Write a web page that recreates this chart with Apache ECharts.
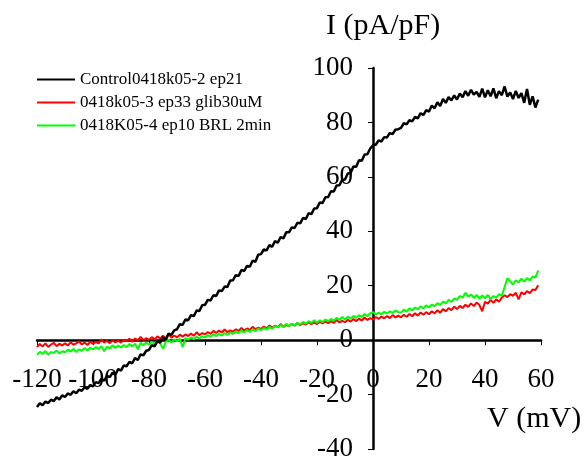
<!DOCTYPE html>
<html>
<head>
<meta charset="utf-8">
<script src="https://cdn.jsdelivr.net/npm/echarts@6/dist/echarts.min.js"></script>
<style>
  html, body { margin: 0; padding: 0; background: #fff; }
  #chart { width: 586px; height: 463px; }
</style>
</head>
<body>
<div id="chart"></div>
<script>
// membrane potential, mV (one sample per mV)
const voltage = [
  -120,-119,-118,-117,-116,-115,-114,-113,-112,-111,
  -110,-109,-108,-107,-106,-105,-104,-103,-102,-101,
  -100,-99,-98,-97,-96,-95,-94,-93,-92,-91,
  -90,-89,-88,-87,-86,-85,-84,-83,-82,-81,
  -80,-79,-78,-77,-76,-75,-74,-73,-72,-71,
  -70,-69,-68,-67,-66,-65,-64,-63,-62,-61,
  -60,-59,-58,-57,-56,-55,-54,-53,-52,-51,
  -50,-49,-48,-47,-46,-45,-44,-43,-42,-41,
  -40,-39,-38,-37,-36,-35,-34,-33,-32,-31,
  -30,-29,-28,-27,-26,-25,-24,-23,-22,-21,
  -20,-19,-18,-17,-16,-15,-14,-13,-12,-11,
  -10,-9,-8,-7,-6,-5,-4,-3,-2,-1,
  0,1,2,3,4,5,6,7,8,9,
  10,11,12,13,14,15,16,17,18,19,
  20,21,22,23,24,25,26,27,28,29,
  30,31,32,33,34,35,36,37,38,39,
  40,41,42,43,44,45,46,47,48,49,
  50,51,52,53,54,55,56,57,58,59
];

// current density, pA/pF
const control = [
  -24.6,-23.2,-23.9,-22.6,-23.1,-21.9,-22.4,-21.0,-21.8,-20.3,
  -20.9,-19.6,-20.1,-18.8,-19.5,-18.2,-18.6,-17.3,-17.9,-16.5,
  -17.0,-15.4,-15.8,-14.2,-14.9,-13.1,-13.6,-12.0,-12.7,-10.6,
  -11.2,-9.3,-9.6,-8.0,-8.5,-6.6,-7.3,-5.2,-5.6,-3.9,
  -3.6,-1.8,-2.3,-0.4,-0.9,1.1,0.2,2.4,1.9,3.6,
  4.0,5.9,5.6,7.6,7.3,9.2,8.8,10.9,10.7,12.8,
  13.0,14.8,14.6,16.5,16.2,18.3,18.0,19.7,19.5,21.9,
  22.0,23.9,23.6,25.8,25.4,27.3,27.0,29.2,28.8,31.4,
  31.6,33.3,33.0,34.9,34.3,36.4,35.8,37.9,37.4,39.6,
  39.6,41.4,41.2,43.1,42.9,44.9,44.5,46.6,46.3,48.4,
  48.5,50.6,50.4,52.5,52.6,54.7,54.6,56.8,56.9,58.9,
  59.0,61.2,61.4,63.8,63.7,66.1,65.9,68.2,68.3,70.4,
  71.6,71.8,73.4,73.0,74.6,74.5,76.1,75.7,77.3,77.5,
  78.0,79.7,79.3,80.8,80.4,82.0,81.5,83.4,82.7,84.5,
  84.0,86.2,85.2,87.4,86.0,88.6,87.2,89.3,88.1,89.9,
  88.4,90.6,89.3,91.5,89.8,92.0,90.2,91.2,89.4,92.4,
  89.2,91.8,89.6,92.5,88.9,91.5,90.0,93.2,89.5,91.0,
  88.6,91.6,89.0,90.8,87.2,92.3,86.5,89.6,85.5,88.4
];

const glib = [
  -2.6,-1.4,-2.3,-1.2,-2.5,-1.6,-1.0,-2.2,-1.3,-2.0,
  -1.1,-2.0,-0.8,-1.7,-1.2,-0.4,-1.6,-0.9,-1.8,-0.5,
  -1.4,-0.6,-1.2,0.3,-0.9,-0.3,-1.1,-0.1,-0.8,-0.2,
  -0.9,0.2,-0.4,0.5,-0.6,0.6,-0.1,1.2,0.0,0.7,
  0.1,1.1,0.3,1.4,0.5,1.6,0.6,2.2,0.9,1.7,
  1.0,2.0,1.3,2.1,1.5,2.4,1.6,2.9,1.8,2.6,
  2.1,3.0,2.3,3.4,2.6,3.5,2.8,3.9,2.9,3.6,
  3.1,4.0,3.4,4.5,3.5,4.3,3.7,4.9,4.0,4.6,
  4.1,5.0,4.3,5.4,4.6,5.3,4.8,5.9,4.9,5.6,
  5.1,6.0,5.3,6.3,5.5,6.2,5.7,6.6,5.9,6.5,
  5.9,6.8,6.1,6.9,6.2,7.0,6.3,7.4,6.5,7.1,
  6.6,7.5,6.8,7.8,7.0,7.9,7.2,8.3,7.4,8.1,
  7.6,8.5,7.8,8.7,8.0,8.9,8.1,9.2,8.3,9.0,
  8.4,9.3,8.6,9.6,8.8,9.9,9.0,10.2,9.3,10.3,
  9.5,10.6,9.8,11.0,10.1,11.4,10.6,11.8,11.0,12.3,
  11.4,12.6,11.8,13.0,12.2,13.5,12.5,13.8,12.9,10.6,
  14.1,13.4,14.8,13.7,15.0,14.1,15.6,16.5,15.8,16.9,
  16.3,17.4,15.0,17.6,16.8,18.0,17.3,18.6,18.4,20.2
];

const brl = [
  -5.4,-4.3,-5.1,-4.0,-5.3,-4.4,-4.7,-3.8,-4.9,-4.1,
  -4.5,-3.5,-4.2,-3.2,-4.4,-3.4,-3.9,-2.9,-3.8,-2.8,
  -3.4,-2.5,-3.3,-2.2,-4.1,-2.4,-3.0,-1.9,-2.9,-2.0,
  -2.7,-1.8,-2.6,-1.4,-2.3,-1.3,-3.4,-1.0,-1.9,-0.9,
  -1.6,-0.6,-1.4,-0.4,-1.2,-3.2,-0.6,0.2,-0.9,0.3,
  -0.4,0.5,-2.6,0.8,0.1,1.0,0.3,1.3,0.6,1.5,
  1.0,1.9,1.2,2.2,1.5,2.3,1.7,2.6,1.9,2.8,
  2.3,3.2,2.6,3.5,2.8,3.7,3.0,4.0,3.3,4.3,
  3.6,4.5,3.9,4.9,4.2,5.2,4.6,5.6,4.9,6.0,
  5.1,6.0,5.4,6.4,5.7,6.7,6.0,7.0,6.3,7.3,
  6.4,7.3,6.6,7.6,6.9,7.8,7.1,8.2,7.4,8.5,
  7.6,8.6,7.9,8.9,8.2,9.2,8.5,9.6,8.8,9.9,
  10.3,9.4,10.1,9.5,10.4,9.8,10.6,10.0,10.9,10.3,
  10.1,11.2,10.5,11.7,10.9,12.0,11.3,12.4,11.7,12.8,
  12.0,13.1,12.4,13.6,12.9,14.2,13.5,14.8,14.0,15.3,
  14.8,16.2,15.6,17.4,16.0,16.8,15.5,16.6,15.2,16.4,
  15.4,16.6,15.1,16.2,15.6,16.9,16.3,19.5,22.8,21.6,
  20.4,22.0,21.2,22.6,21.5,22.8,21.9,23.4,23.0,25.6
];

const seriesNames = [
  "Control0418k05-2 ep21",
  "0418k05-3 ep33 glib30uM",
  "0418K05-4 ep10 BRL 2min"
];

const pairs = (ys) => voltage.map((v, i) => [v, ys[i]]);
const FONT = "'Liberation Serif', 'Times New Roman', serif";

// grid box: x -120..60 -> 37..541 px, y -40..100 -> 449..68 px
const GRID = { left: 37, right: 45, top: 68, bottom: 14 };
const PX_PER_MV = (586 - GRID.left - GRID.right) / 180;
const PX_PER_PA = (463 - GRID.top - GRID.bottom) / 140;

const chart = echarts.init(document.getElementById("chart"));

chart.setOption({
  animation: false,
  textStyle: { fontFamily: FONT },
  grid: Object.assign({ outerBoundsMode: "none", containLabel: false }, GRID),
  legend: {
    orient: "vertical",
    left: 32,
    top: 66,
    itemWidth: 38,
    itemHeight: 2,
    itemGap: 6,
    icon: "path://M0,0L38,0L38,2L0,2Z",
    data: seriesNames,
    textStyle: { fontFamily: FONT, fontSize: 17, lineHeight: 17, color: "#000" }
  },
  xAxis: {
    type: "value",
    min: -120,
    max: 60,
    interval: 20,
    position: "bottom",
    // move the axis up to I = 0
    offset: -40 * PX_PER_PA,
    axisLine: { onZero: false, lineStyle: { color: "#000", width: 2.5 } },
    axisTick: { length: 5, lineStyle: { color: "#000", width: 1 } },
    axisLabel: { fontFamily: FONT, fontSize: 27, color: "#000", margin: 26 },
    splitLine: { show: false }
  },
  yAxis: {
    type: "value",
    min: -40,
    max: 100,
    interval: 20,
    position: "left",
    // move the axis right to V = 0
    offset: -120 * PX_PER_MV,
    axisLine: { onZero: false, lineStyle: { color: "#000", width: 2.5 } },
    axisTick: { length: 5, lineStyle: { color: "#000", width: 1 } },
    axisLabel: { fontFamily: FONT, fontSize: 27, color: "#000", margin: 20 },
    splitLine: { show: false }
  },
  graphic: [
    {
      type: "text",
      left: 326,
      top: 11,
      style: { text: "I (pA/pF)", font: "30px " + FONT, fill: "#000" }
    },
    {
      type: "text",
      left: 487,
      top: 404,
      style: { text: "V (mV)", font: "30px " + FONT, fill: "#000" }
    }
  ],
  series: [
    {
      name: seriesNames[0],
      type: "line",
      data: pairs(control),
      symbol: "none",
      z: 4,
      lineStyle: { color: "#000000", width: 2.5 },
      itemStyle: { color: "#000000" }
    },
    {
      name: seriesNames[1],
      type: "line",
      data: pairs(glib),
      symbol: "none",
      z: 2,
      lineStyle: { color: "#ff0000", width: 2 },
      itemStyle: { color: "#ff0000" }
    },
    {
      name: seriesNames[2],
      type: "line",
      data: pairs(brl),
      symbol: "none",
      z: 3,
      lineStyle: { color: "#00ff00", width: 2 },
      itemStyle: { color: "#00ff00" }
    }
  ]
});
</script>
</body>
</html>
